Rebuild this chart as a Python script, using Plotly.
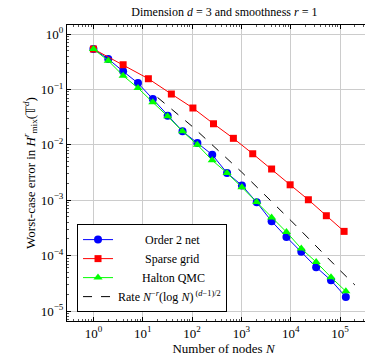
import plotly.graph_objects as go

# node counts
net_nodes = [1, 2, 4, 8, 16, 32, 64, 128, 256, 512, 1024, 2048, 4096, 8192,
             16384, 32768, 65536, 131072]
sparse_nodes = [1, 4, 13, 38, 104, 272, 688, 1696, 4096, 9728, 22784, 52736, 120832]
rate_nodes = [20, 100, 1000, 10000, 100000, 200000]

# worst-case errors
order2_err = [0.536, 0.354, 0.212, 0.130, 0.067, 0.0335, 0.0175, 0.0108, 0.00663,
              0.0031, 0.00185, 0.000916, 0.000416, 0.000217, 0.000118, 6.2e-5,
              3.58e-5, 1.79e-5]
sparse_err = [0.536, 0.279, 0.156, 0.0826, 0.0462, 0.024, 0.0131, 0.0069, 0.00366,
              0.0019, 0.00102, 0.000525, 0.000274]
halton_err = [0.536, 0.33, 0.177, 0.106, 0.0585, 0.0327, 0.0175, 0.0100, 0.00525,
              0.0031, 0.00171, 0.00093, 0.00049, 0.000267, 0.000134, 7.66e-5,
              4.07e-5, 2.27e-5]
rate_err = [0.0715, 0.0216, 0.00325, 0.000433, 5.41e-5, 2.95e-5]

x_ticks = [1, 10, 100, 1000, 10000, 100000]
x_labels = ["10<sup>0</sup>", "10<sup>1</sup>", "10<sup>2</sup>", "10<sup>3</sup>",
            "10<sup>4</sup>", "10<sup>5</sup>"]
y_ticks = [1, 0.1, 0.01, 0.001, 0.0001, 0.00001]
y_labels = ["10<sup>0</sup>", "10<sup>−1</sup>", "10<sup>−2</sup>", "10<sup>−3</sup>",
            "10<sup>−4</sup>", "10<sup>−5</sup>"]

FONT = "Liberation Serif"
PAD = "\u00a0" * 9  # centre the short legend labels like the original

fig = go.Figure()
fig.add_trace(go.Scatter(
    x=net_nodes, y=order2_err, name=PAD + "Order 2 net", mode="lines+markers",
    line=dict(color="#0000ff", width=1),
    marker=dict(symbol="circle", size=8, color="#0000ff"),
))
fig.add_trace(go.Scatter(
    x=sparse_nodes, y=sparse_err, name=PAD + "Sparse grid", mode="lines+markers",
    line=dict(color="#ff0000", width=1),
    marker=dict(symbol="square", size=7, color="#ff0000"),
))
fig.add_trace(go.Scatter(
    x=net_nodes, y=halton_err, name=PAD[:-1] + "Halton QMC", mode="lines+markers",
    line=dict(color="#00ff00", width=1),
    marker=dict(symbol="triangle-up", size=8, color="#00ff00"),
))
fig.add_trace(go.Scatter(
    x=rate_nodes, y=rate_err, mode="lines",
    name="Rate <i>N</i><sup>−<i>r</i></sup>(log <i>N</i>)<sup> (<i>d</i>−1)/2</sup>",
    line=dict(color="black", width=1, dash="dash"),
))

minor_x = [m * 10 ** k for k in range(-1, 6) for m in range(2, 10)]
minor_y = [m * 10.0 ** k for k in range(-6, 1) for m in range(2, 10)]

axis_common = dict(
    showline=True, linecolor="black", linewidth=1, mirror="allticks",
    ticks="inside", ticklen=4, tickcolor="black",
    showgrid=True, gridcolor="#cccccc", gridwidth=1,
    zeroline=False,
    tickfont=dict(family=FONT, size=13, color="black"),
)

fig.update_xaxes(
    type="log", range=[-0.536, 5.81],
    tickvals=x_ticks, ticktext=x_labels,
    minor=dict(tickvals=minor_x, ticks="inside", ticklen=2, tickcolor="#555555",
               showgrid=False),
    title=dict(text="Number of nodes <i>N</i>", font=dict(family=FONT, size=13, color="black"),
               standoff=2),
    **axis_common,
)
fig.update_yaxes(
    type="log", range=[-5.18, 0.163],
    tickvals=y_ticks, ticktext=y_labels,
    minor=dict(tickvals=minor_y, ticks="inside", ticklen=2, tickcolor="#555555",
               showgrid=False),
    title=dict(text="Worst-case error in <i>H</i><sup><i>r</i></sup><sub>mix</sub>(𝕋<sup><i>d</i></sup>)",
               font=dict(family=FONT, size=13, color="black"), standoff=2),
    **axis_common,
)

fig.update_layout(
    width=373, height=358,
    margin=dict(l=59, r=1, t=17, b=45),
    paper_bgcolor="white", plot_bgcolor="white",
    title=dict(text="Dimension <i>d</i> = 3 and smoothness <i>r</i> = 1",
               x=0.58, xanchor="center", y=1.0, yanchor="top",
               font=dict(family=FONT, size=12, color="black")),
    font=dict(family=FONT, size=12, color="black"),
    legend=dict(
        x=0.032, y=0.03, xanchor="left", yanchor="bottom",
        bgcolor="white", bordercolor="black", borderwidth=1,
        font=dict(family=FONT, size=12, color="black"),
        itemwidth=30, tracegroupgap=0,
    ),
)

fig.write_html("out.html")
